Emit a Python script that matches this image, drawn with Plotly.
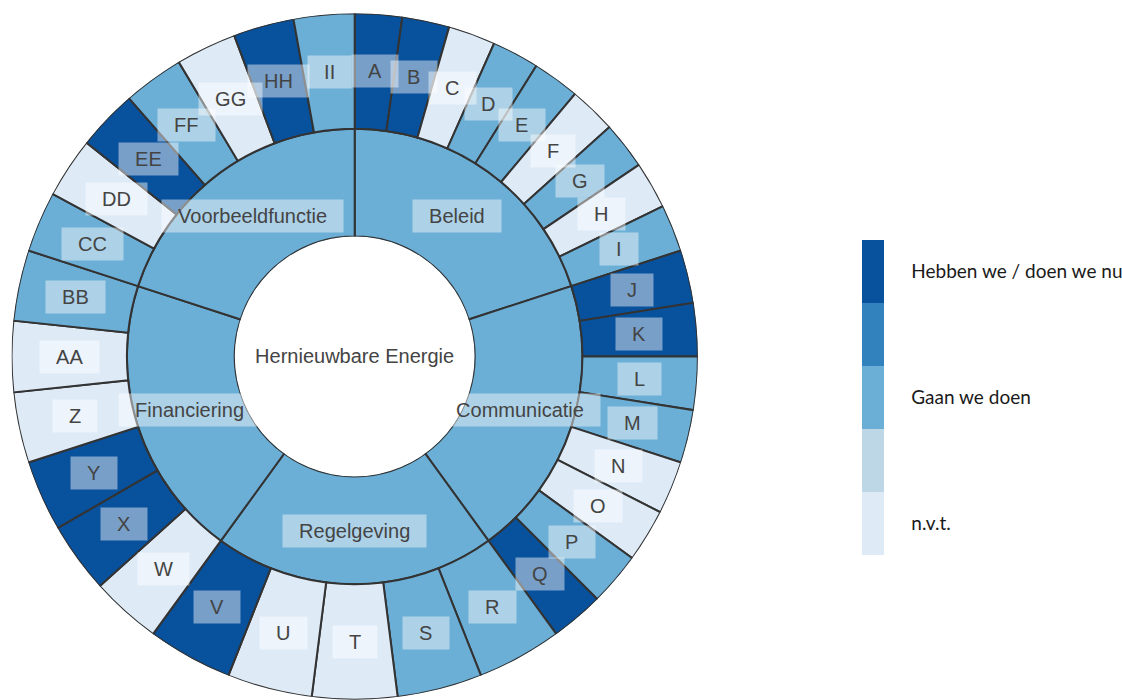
import math
import plotly.graph_objects as go

# ---- data ----
center_label = "Hernieuwbare Energie"
categories = ["Beleid", "Communicatie", "Regelgeving", "Financiering", "Voorbeeldfunctie"]
items = [
    ["A", "B", "C", "D", "E", "F", "G", "H", "I"],
    ["J", "K", "L", "M", "N", "O", "P", "Q"],
    ["R", "S", "T", "U", "V"],
    ["W", "X", "Y", "Z", "AA", "BB"],
    ["CC", "DD", "EE", "FF", "GG", "HH", "II"],
]
# status code per item: 0 = n.v.t., 2 = gaan we doen, 4 = hebben we / doen we nu
status = [
    [4, 4, 0, 2, 2, 0, 2, 0, 2],
    [4, 4, 2, 2, 0, 0, 2, 4],
    [2, 2, 0, 0, 4],
    [0, 4, 4, 0, 0, 2],
    [2, 0, 4, 2, 0, 4, 2],
]
legend_vals = [0, 2, 4]
legend_text = ["n.v.t.", "Gaan we doen", "Hebben we / doen we nu"]

# ---- style / geometry ----
W, H = 1122, 700
CX, CY = 355.0, 356.5          # centre of the wheel in px
R_OUT, R_MID, R_IN = 343.5, 228.0, 120.0
palette = ["#deebf7", "#bdd7e7", "#6baed6", "#3182bd", "#08519c"]
category_color = "#6baed6"
edge = dict(color="#333333", width=2)
label_font = dict(family="Liberation Sans, Arial, sans-serif", size=20, color="#444444")
box_bg = "rgba(255,255,255,0.45)"
NB = "\u00a0\u00a0"

# stepped colour scale: one flat band per status level
steps = len(palette)
colorscale = []
for i, c in enumerate(palette):
    colorscale.append([i / steps, c])
    colorscale.append([(i + 1) / steps, c])

# each category gets an equal share of the circle, its items split it equally
cat_span = 360.0 / len(categories)
cat_theta, item_theta, item_width, item_names, item_status = [], [], [], [], []
for ci, (kids, st) in enumerate(zip(items, status)):
    start = ci * cat_span
    cat_theta.append(start + cat_span / 2)
    w = cat_span / len(kids)
    for j, (name, s) in enumerate(zip(kids, st)):
        item_theta.append(start + (j + 0.5) * w)
        item_width.append(w)
        item_names.append(name)
        item_status.append(s)

fig = go.Figure()

fig.add_trace(go.Barpolar(
    theta=cat_theta,
    r=[R_MID - R_IN] * len(categories),
    base=R_IN,
    width=[cat_span] * len(categories),
    marker=dict(color=category_color, line=edge),
    hovertext=categories,
    hoverinfo="text",
))

fig.add_trace(go.Barpolar(
    theta=item_theta,
    r=[R_OUT - R_MID] * len(item_names),
    base=R_MID,
    width=item_width,
    marker=dict(
        color=item_status,
        colorscale=colorscale,
        cmin=-0.5,
        cmax=4.5,
        line=edge,
        showscale=True,
        colorbar=dict(
            x=862 / W, xanchor="left", xpad=0,
            y=1 - 397.5 / H, yanchor="middle", ypad=0,
            len=315, lenmode="pixels",
            thickness=22,
            outlinewidth=0,
            tickvals=legend_vals,
            ticktext=legend_text,
            ticks="outside", ticklen=24, tickcolor="rgba(0,0,0,0)",
            tickfont=dict(family="Lato, sans-serif", size=19, color="#1a1a1a"),
        ),
    ),
    hovertext=item_names,
    hoverinfo="text",
))


def to_paper(theta_deg, r):
    t = math.radians(theta_deg)
    return (CX + r * math.sin(t)) / W, 1 - (CY - r * math.cos(t)) / H


annotations = []


def add_label(text, theta, r):
    x, y = to_paper(theta, r)
    annotations.append(dict(
        x=x, y=y, xref="paper", yref="paper",
        text=NB + text + NB, showarrow=False,
        font=label_font, bgcolor=box_bg, borderpad=5,
        xanchor="center", yanchor="middle",
    ))


r_item = (R_MID + R_OUT) / 2
r_cat = (R_IN + R_MID) / 2
for name, th in zip(item_names, item_theta):
    add_label(name, th, r_item)
for name, th in zip(categories, cat_theta):
    add_label(name, th, r_cat)
add_label(center_label, 0, 0)

fig.update_layout(
    width=W, height=H,
    margin=dict(l=0, r=0, t=0, b=0),
    paper_bgcolor="white",
    showlegend=False,
    polar=dict(
        domain=dict(x=[(CX - R_OUT) / W, (CX + R_OUT) / W],
                    y=[1 - (CY + R_OUT) / H, 1 - (CY - R_OUT) / H]),
        hole=R_IN / R_OUT,
        bgcolor="white",
        angularaxis=dict(rotation=90, direction="clockwise", visible=False,
                         showgrid=False, showline=False),
        radialaxis=dict(range=[R_IN, R_OUT], visible=False, showgrid=False),
        bargap=0,
    ),
    annotations=annotations,
)

fig.write_html("out.html")
